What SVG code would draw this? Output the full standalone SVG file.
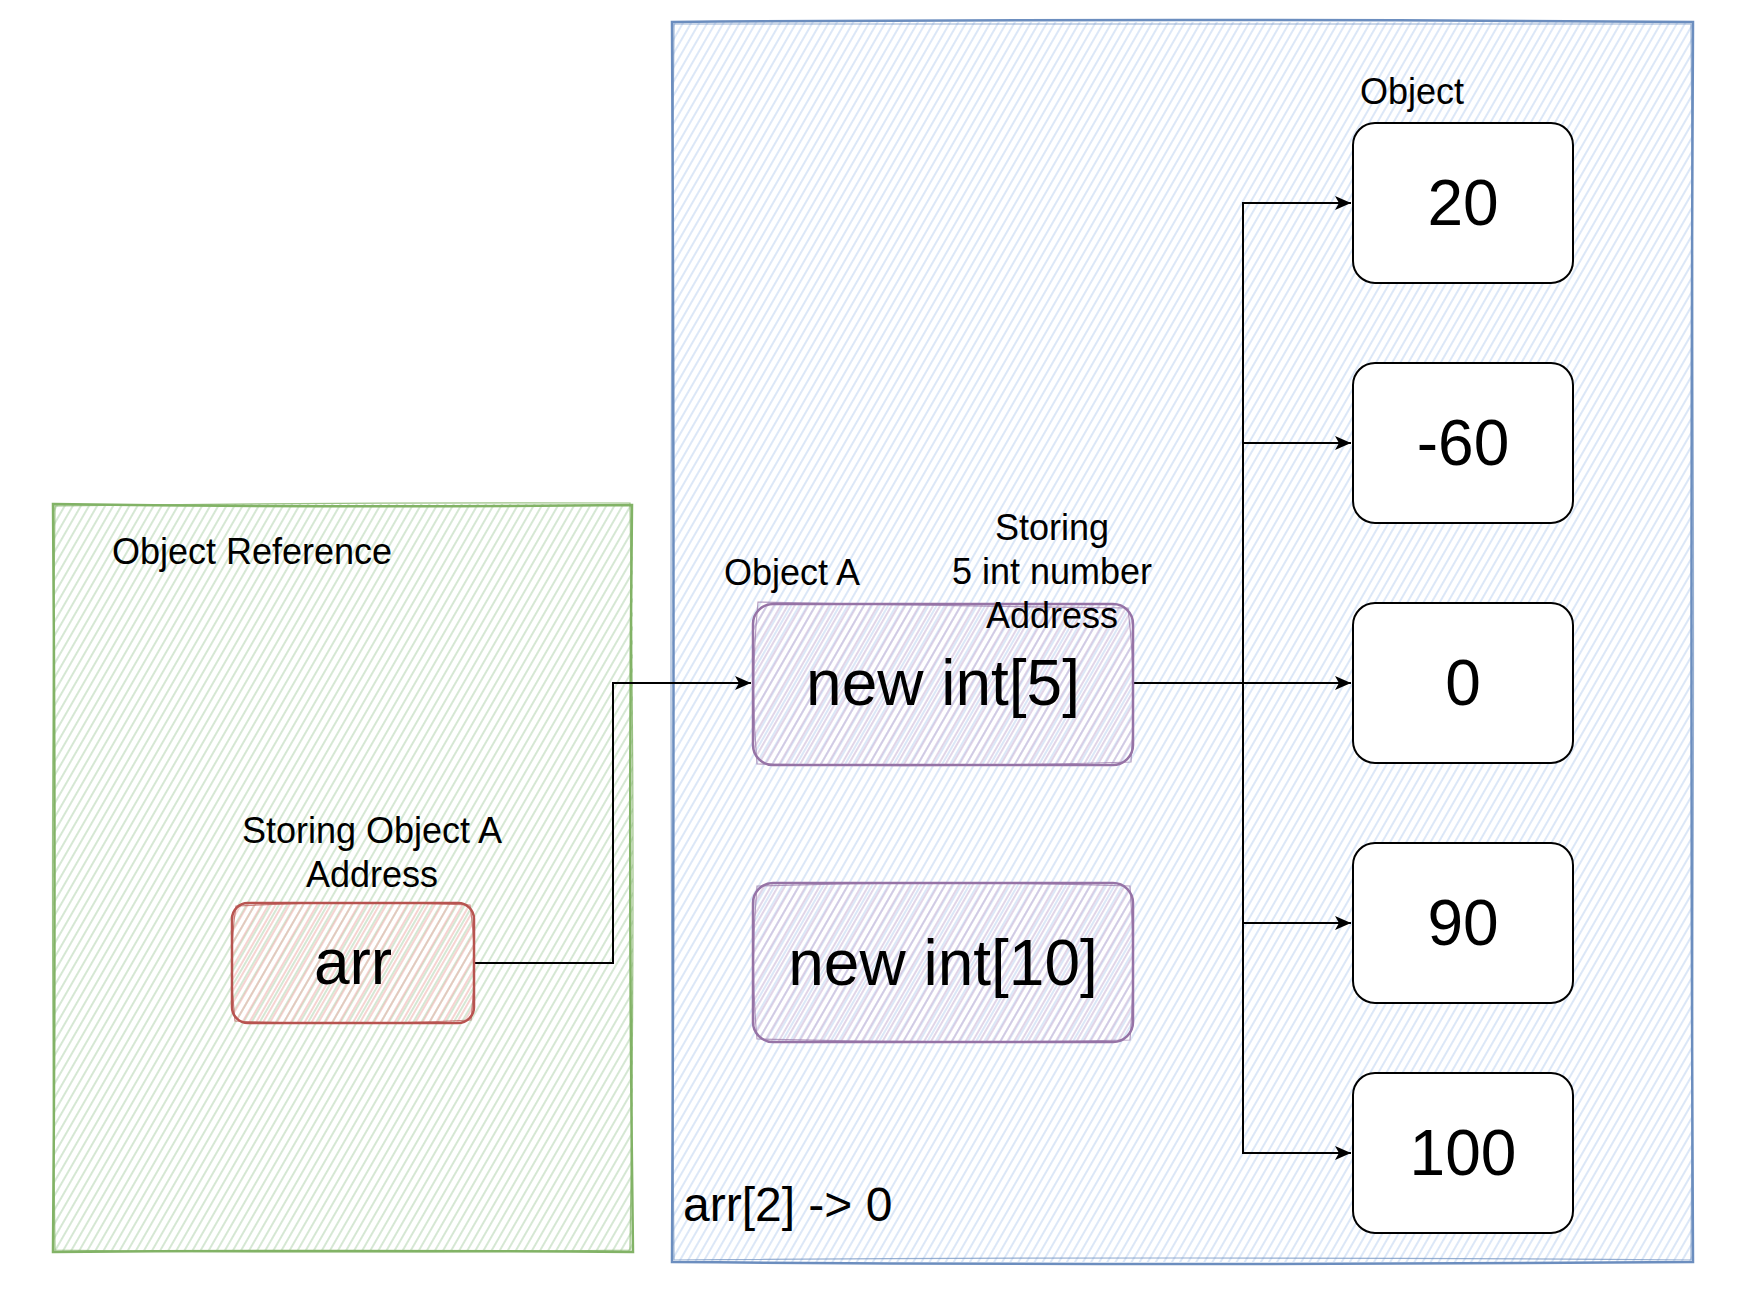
<svg xmlns="http://www.w3.org/2000/svg" width="1740" height="1294" viewBox="0 0 1740 1294">
  <style>
    text { font-family: "Liberation Sans", Arial, Helvetica, sans-serif; fill: #000; }
    .s36 { font-size: 36px; }
    .s48 { font-size: 48px; }
    .s64 { font-size: 64px; }
    .mid { text-anchor: middle; }
    .edge { fill: none; stroke: #000; stroke-width: 2; marker-end: url(#arrow); }
    .val { fill: #fff; stroke: #000; stroke-width: 2; }
  </style>
  <defs>
    <pattern id="hGreen" patternUnits="userSpaceOnUse" width="7" height="7" patternTransform="rotate(30)">
      <line x1="1" y1="0" x2="1" y2="7" stroke="#b3d4af" stroke-width="1.1"/>
    </pattern>
    <pattern id="hBlue" patternUnits="userSpaceOnUse" width="7" height="7" patternTransform="rotate(30)">
      <line x1="1" y1="0" x2="1" y2="7" stroke="#bed3f0" stroke-width="1.1"/>
    </pattern>
    <pattern id="hRed" patternUnits="userSpaceOnUse" width="6" height="6" patternTransform="rotate(30)">
      <line x1="1" y1="0" x2="1" y2="6" stroke="#eeb0ad" stroke-width="1.1"/>
    </pattern>
    <pattern id="hPurple" patternUnits="userSpaceOnUse" width="6" height="6" patternTransform="rotate(30)">
      <line x1="1" y1="0" x2="1" y2="6" stroke="#c9b3d5" stroke-width="1.1"/>
    </pattern>
    <marker id="arrow" markerUnits="userSpaceOnUse" markerWidth="18" markerHeight="16" refX="16" refY="8" orient="auto">
      <path d="M0,1 L16,8 L0,15 L4,8 z" fill="#000"/>
    </marker>
  </defs>

  <rect width="1740" height="1294" fill="#fff"/>

  <g id="object-reference-area">
    <rect x="53" y="504" width="580" height="748" fill="url(#hGreen)"/>
    <path d="M53,504 Q340,508 632,505 Q628,880 633,1252 Q340,1250 53,1252 Q56,880 53,504 Z" fill="none" stroke="#82b366" stroke-width="2.5"/>
    <path d="M55,506 Q340,502 630,503 Q636,880 630,1250 Q340,1254 55,1250 Q50,880 55,506 Z" fill="none" stroke="#82b366" stroke-width="1.2" opacity="0.8"/>
    <text class="s36" x="112" y="564">Object Reference</text>
  </g>

  <g id="heap-area">
    <rect x="672" y="22" width="1021" height="1240" fill="url(#hBlue)"/>
    <path d="M672,22 Q1180,18 1693,22 Q1690,640 1693,1262 Q1180,1266 672,1262 Q675,640 672,22 Z" fill="none" stroke="#6c8ebf" stroke-width="2.5"/>
    <path d="M674,24 Q1180,26 1691,24 Q1696,640 1691,1260 Q1180,1256 674,1260 Q668,640 674,24 Z" fill="none" stroke="#6c8ebf" stroke-width="1.2" opacity="0.7"/>
    <text class="s48" x="683" y="1221">arr[2] -&gt; 0</text>
    <text class="s36" x="1360" y="104">Object</text>
  </g>

  <g id="connectors">
    <path class="edge" d="M474,963 H613 V683 H751"/>
    <path class="edge" d="M1133,683 H1243 V203 H1351"/>
    <path class="edge" d="M1133,683 H1243 V443 H1351"/>
    <path class="edge" d="M1133,683 H1351"/>
    <path class="edge" d="M1133,683 H1243 V923 H1351"/>
    <path class="edge" d="M1133,683 H1243 V1153 H1351"/>
  </g>

  <g id="arr-node">
    <rect x="232" y="903" width="242" height="120" rx="16" fill="url(#hRed)"/>
    <rect x="232" y="903" width="242" height="120" rx="16" fill="none" stroke="#b85450" stroke-width="2.5"/>
    <path d="M236,906 Q350,900 470,905 Q478,960 471,1020 Q350,1026 235,1021 Q228,960 236,906 Z" fill="none" stroke="#b85450" stroke-width="1.2" opacity="0.7"/>
    <text class="s36 mid" x="372" y="843">Storing Object A</text>
    <text class="s36 mid" x="372" y="887">Address</text>
    <text class="s64 mid" x="353" y="984">arr</text>
  </g>

  <g id="object-a-node">
    <rect x="753" y="604" width="380" height="161" rx="20" fill="url(#hPurple)"/>
    <rect x="753" y="604" width="380" height="161" rx="20" fill="none" stroke="#9673a6" stroke-width="2.5"/>
    <path d="M758,602 Q940,606 1128,608 Q1137,684 1131,762 Q940,768 757,764 Q750,684 758,602 Z" fill="none" stroke="#9673a6" stroke-width="1.2" opacity="0.7"/>
    <text class="s36 mid" x="792" y="585">Object A</text>
    <text class="s36 mid" x="1052" y="540">Storing</text>
    <text class="s36 mid" x="1052" y="584">5 int number</text>
    <text class="s36 mid" x="1052" y="628">Address</text>
    <text class="s64 mid" x="943" y="705">new int[5]</text>
  </g>

  <g id="int10-node">
    <rect x="753" y="883" width="380" height="159" rx="20" fill="url(#hPurple)"/>
    <rect x="753" y="883" width="380" height="159" rx="20" fill="none" stroke="#9673a6" stroke-width="2.5"/>
    <path d="M757,886 Q940,880 1130,886 Q1136,962 1130,1040 Q940,1044 757,1039 Q750,962 757,886 Z" fill="none" stroke="#9673a6" stroke-width="1.2" opacity="0.7"/>
    <text class="s64 mid" x="943" y="985">new int[10]</text>
  </g>

  <g id="val-20">
    <rect class="val" x="1353" y="123" width="220" height="160" rx="22"/>
    <text class="s64 mid" x="1463" y="225">20</text>
  </g>
  <g id="val-neg60">
    <rect class="val" x="1353" y="363" width="220" height="160" rx="22"/>
    <text class="s64 mid" x="1463" y="465">-60</text>
  </g>
  <g id="val-0">
    <rect class="val" x="1353" y="603" width="220" height="160" rx="22"/>
    <text class="s64 mid" x="1463" y="705">0</text>
  </g>
  <g id="val-90">
    <rect class="val" x="1353" y="843" width="220" height="160" rx="22"/>
    <text class="s64 mid" x="1463" y="945">90</text>
  </g>
  <g id="val-100">
    <rect class="val" x="1353" y="1073" width="220" height="160" rx="22"/>
    <text class="s64 mid" x="1463" y="1175">100</text>
  </g>
</svg>
